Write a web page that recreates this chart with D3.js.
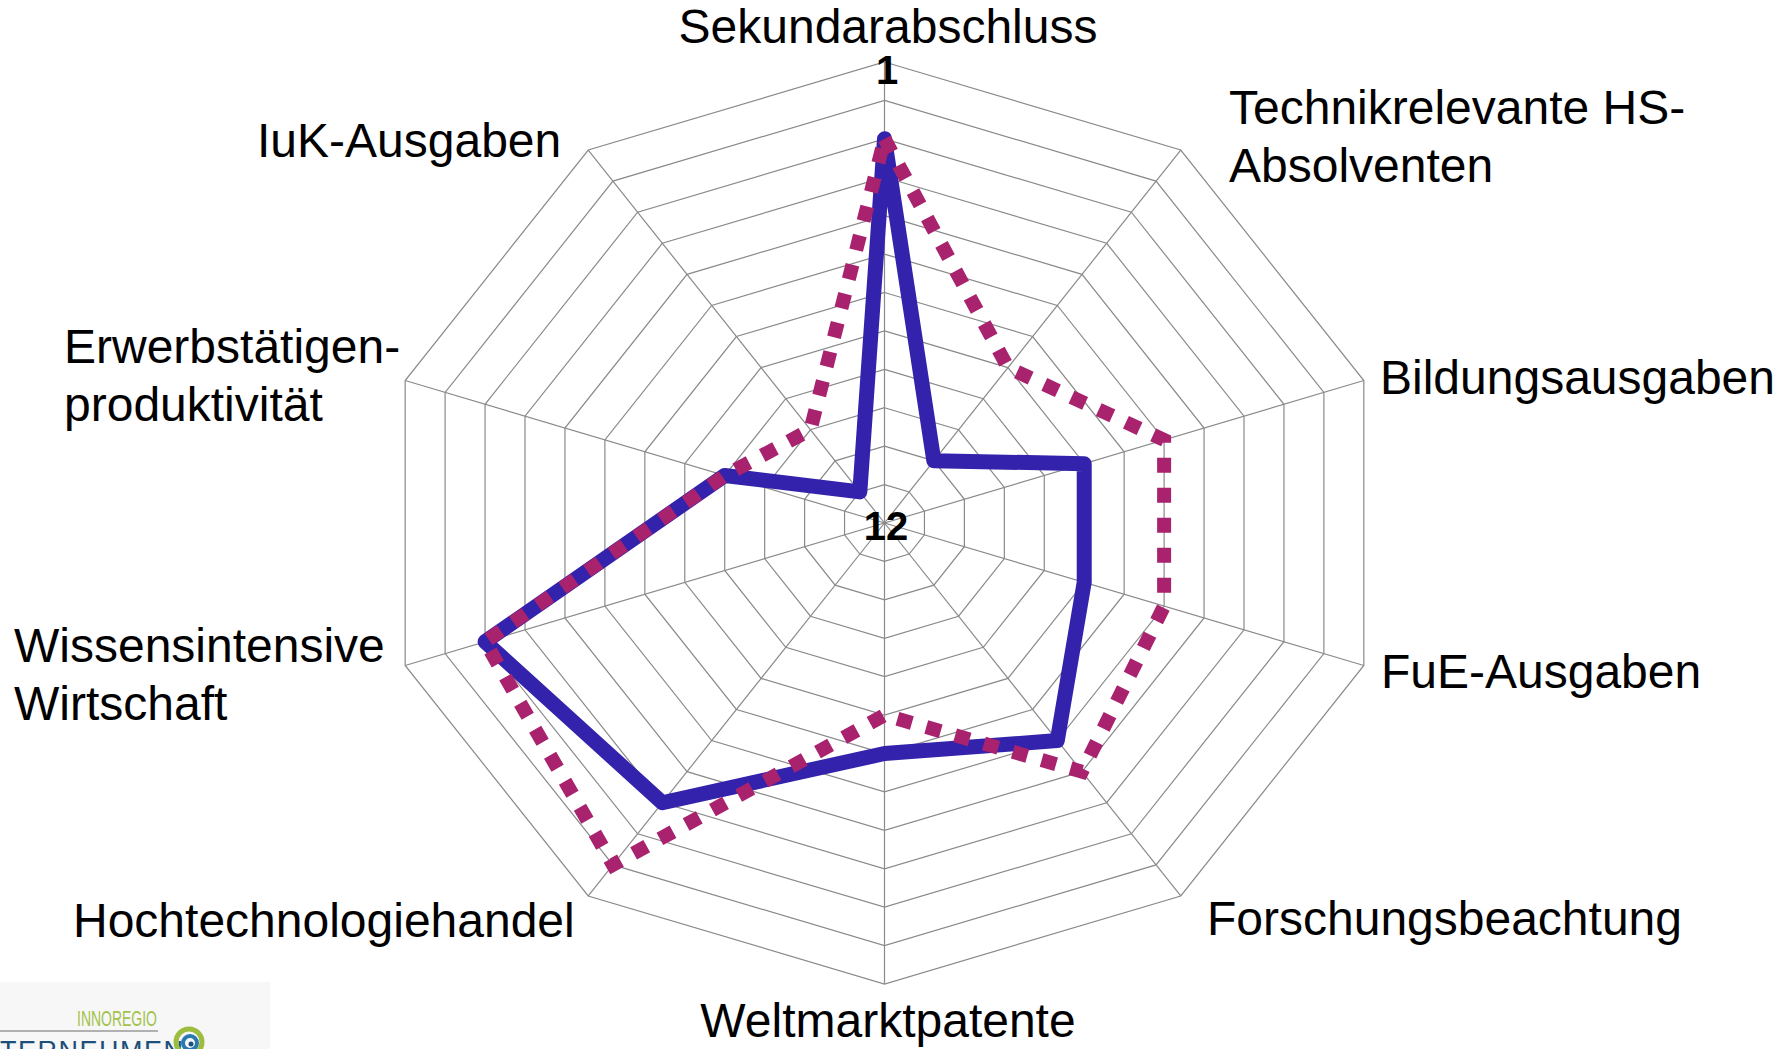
<!DOCTYPE html>
<html lang="de">
<head>
    <meta charset="UTF-8">
    <title>Netzdiagramm Innovationsindikatoren</title>
    <style>
        html, body { margin: 0; padding: 0; background: #ffffff; overflow: hidden; }
        .label { font-family: "Liberation Sans", Arial, sans-serif; font-size: 48px; fill: #000; }
        .rank { font-family: "Liberation Sans", Arial, sans-serif; font-size: 40px; font-weight: bold; fill: #000; }
        .grid { fill: none; stroke: #8a8a8a; stroke-width: 1.2; }
    </style>
    <script src="https://cdn.jsdelivr.net/npm/d3@7"></script>
</head>
<body>
<script>
    // Daten: Rangplatz (1 = aussen, 12 = Mitte)
    var categories = ["Sekundarabschluss", "Technikrelevante HS-Absolventen", "Bildungsausgaben",
        "FuE-Ausgaben", "Forschungsbeachtung", "Weltmarktpatente", "Hochtechnologiehandel",
        "Wissensintensive Wirtschaft", "Erwerbstätigenproduktivität", "IuK-Ausgaben"];
    var seriesSolid = [3, 11, 8, 8, 6, 7, 4, 3, 9, 12];
    var seriesDotted = [3, 8, 6, 6, 5, 8, 2, 3, 9, 10];
    var rankTicks = [1, 2, 3, 4, 5, 6, 7, 8, 9, 10, 11, 12];
    var rankLabels = ["1", "12"];

    var width = 1789, height = 1049;
    var cx = 884.5, cy = 523;
    var RX = 504, RY = 461;   // Diagramm ist horizontal leicht gestreckt

    var svg = d3.select("body").append("svg")
        .attr("width", width)
        .attr("height", height);

    // Skalen: Rang 1 liegt aussen, Mitte entspricht 13
    var rx = d3.scaleLinear().domain([13, 1]).range([0, RX]);
    var ry = d3.scaleLinear().domain([13, 1]).range([0, RY]);
    var angle = d3.scaleLinear().domain([0, categories.length]).range([0, 2 * Math.PI]);

    function px(i, v) { return cx + Math.sin(angle(i)) * rx(v); }
    function py(i, v) { return cy - Math.cos(angle(i)) * ry(v); }

    var ring = d3.line()
        .x(function(d) { return px(d.i, d.v); })
        .y(function(d) { return py(d.i, d.v); })
        .curve(d3.curveLinearClosed);

    // Ringe
    var g = svg.append("g");
    g.selectAll(".ring")
        .data(rankTicks)
        .enter()
        .append("path")
        .attr("class", "grid")
        .attr("d", function(t) {
            return ring(categories.map(function(c, i) { return {i: i, v: t}; }));
        });

    // Speichen
    g.selectAll(".spoke")
        .data(categories)
        .enter()
        .append("line")
        .attr("class", "grid")
        .attr("x1", cx).attr("y1", cy)
        .attr("x2", function(d, i) { return px(i, rankTicks[0]); })
        .attr("y2", function(d, i) { return py(i, rankTicks[0]); });

    // Datenreihen
    function toPts(arr) { return arr.map(function(v, i) { return {i: i, v: v}; }); }

    svg.append("path")
        .attr("d", ring(toPts(seriesSolid)))
        .attr("fill", "none")
        .attr("stroke", "#3322ab")
        .attr("stroke-width", 15)
        .attr("stroke-linejoin", "round");

    svg.append("path")
        .attr("d", ring(toPts(seriesDotted)))
        .attr("fill", "none")
        .attr("stroke", "#a8226e")
        .attr("stroke-width", 14)
        .attr("stroke-dasharray", "15 15")
        .attr("stroke-linejoin", "miter");

    // Rangbeschriftung
    svg.append("text").attr("class", "rank")
        .attr("x", 887).attr("y", 84)
        .attr("text-anchor", "middle")
        .text(rankLabels[0]);
    svg.append("text").attr("class", "rank")
        .attr("x", 886).attr("y", 540)
        .attr("text-anchor", "middle")
        .text(rankLabels[1]);

    // Achsenbeschriftungen (Zeilen, Lage)
    var labelLayout = [
        {lines: ["Sekundarabschluss"], x: 888, y: 43, anchor: "middle"},
        {lines: ["Technikrelevante HS-", "Absolventen"], x: 1229, y: 124, anchor: "start"},
        {lines: ["Bildungsausgaben"], x: 1380, y: 394, anchor: "start"},
        {lines: ["FuE-Ausgaben"], x: 1381, y: 688, anchor: "start"},
        {lines: ["Forschungsbeachtung"], x: 1207, y: 935, anchor: "start"},
        {lines: ["Weltmarktpatente"], x: 888, y: 1037, anchor: "middle"},
        {lines: ["Hochtechnologiehandel"], x: 73, y: 937, anchor: "start"},
        {lines: ["Wissensintensive", "Wirtschaft"], x: 14, y: 662, anchor: "start"},
        {lines: ["Erwerbstätigen-", "produktivität"], x: 64, y: 363, anchor: "start"},
        {lines: ["IuK-Ausgaben"], x: 257, y: 157, anchor: "start"}
    ];

    svg.selectAll(".label")
        .data(labelLayout)
        .enter()
        .append("text")
        .attr("class", "label")
        .attr("text-anchor", function(d) { return d.anchor; })
        .each(function(d) {
            var t = d3.select(this);
            d.lines.forEach(function(l, k) {
                t.append("tspan").attr("x", d.x).attr("y", d.y + k * 58).text(l);
            });
        });

    // Logo unten links (angeschnitten wie im Original)
    var logo = svg.append("g");
    logo.append("rect").attr("x", 0).attr("y", 982).attr("width", 270).attr("height", 70).attr("fill", "#f7f7f7");
    logo.append("text")
        .attr("x", 117).attr("y", 1026)
        .attr("text-anchor", "middle")
        .attr("font-family", "Liberation Sans Narrow, Liberation Sans, sans-serif")
        .attr("font-size", 22)
        .attr("textLength", 80)
        .attr("lengthAdjust", "spacingAndGlyphs")
        .attr("fill", "#a3c24a")
        .text("INNOREGIO");
    logo.append("line").attr("x1", 0).attr("x2", 158).attr("y1", 1031).attr("y2", 1031)
        .attr("stroke", "#9a9a9a").attr("stroke-width", 1.5);
    logo.append("text")
        .attr("x", -42).attr("y", 1060)
        .attr("font-family", "Liberation Sans, sans-serif")
        .attr("font-size", 27)
        .attr("letter-spacing", 1.5)
        .attr("fill", "#1d4f7a")
        .text("UNTERNEHMEN");
    logo.append("circle").attr("cx", 189).attr("cy", 1042).attr("r", 13)
        .attr("fill", "none").attr("stroke", "#9cbd3f").attr("stroke-width", 5);
    logo.append("circle").attr("cx", 190).attr("cy", 1043).attr("r", 7)
        .attr("fill", "none").attr("stroke", "#2a78b0").attr("stroke-width", 4);
    logo.append("circle").attr("cx", 191).attr("cy", 1044).attr("r", 2.5).attr("fill", "#1d4f7a");
</script>
</body>
</html>
